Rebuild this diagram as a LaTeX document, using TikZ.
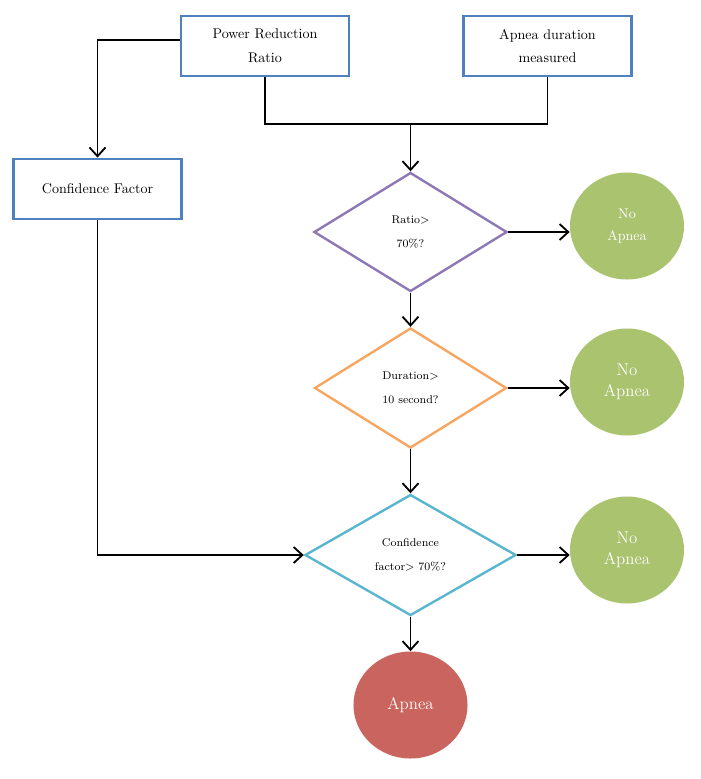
\documentclass[tikz,border=0pt]{standalone}
\usepackage{tikz}
\usetikzlibrary{shapes.geometric}
\usetikzlibrary{arrows.meta}
\usetikzlibrary{positioning}
\definecolor{boxblue}{RGB}{79,129,189}
\definecolor{askpurple}{RGB}{140,120,180}
\definecolor{askorange}{RGB}{247,165,95}
\definecolor{askteal}{RGB}{90,182,206}
\definecolor{nogreen}{RGB}{169,195,111}
\definecolor{yesred}{RGB}{201,100,94}
\tikzset{inbox/.style={draw=boxblue, line width=2pt, minimum width=4.2cm, minimum height=1.5cm, align=center, inner sep=0pt},
	ask/.style={diamond, line width=1.7pt, inner sep=0pt, align=center, font=\footnotesize},
	verdict/.style={ellipse, text=white, minimum width=2.85cm, minimum height=2.675cm, align=center, inner sep=0pt},
	wire/.style={line width=1.3pt},
	arr/.style={wire, -{Straight Barb[length=2.2mm, width=4mm]}}}

\begin{document}
\begin{tikzpicture}[x=0.025cm, y=-0.025cm]

					\useasboundingbox (0,0) rectangle (700,779);

					\node[inbox] (prr) at (265,46) {Power Reduction\\[5pt]Ratio};
					\node[inbox] (adm) at (547.5,46) {Apnea duration\\[5pt]measured};
					\node[inbox] (cf) at (97.5,189) {Confidence Factor};

					\node[ask, draw=askpurple, minimum width=4.825cm, minimum height=2.975cm] (ratio) at (410.5,232) {Ratio>\\[7.5pt]70\%?};
					\node[ask, draw=askorange, minimum width=4.8cm, minimum height=3cm] (dur) at (410.5,388) {Duration>\\[7.5pt]10 second?};
					\node[ask, draw=askteal, minimum width=5.275cm, minimum height=3.025cm] (conf) at (410.5,555) {Confidence\\[7.5pt]factor> 70\%?};

					\node[verdict, fill=nogreen] (no1) at (627,226) {No\\[4pt]Apnea};
					\node[verdict, fill=nogreen, font=\large] (no2) at (627,382) {No\\[1pt]Apnea};
					\node[verdict, fill=nogreen, font=\large] (no3) at (627,550) {No\\[1pt]Apnea};
					\node[verdict, fill=yesred, font=\large] (apnea) at (410.5,705) {Apnea};

					\coordinate (join) at (410.5,124);

					\draw[arr] ([yshift=0.15cm]prr.west) -| (cf.north);
					\draw[wire] (prr.south) |- (join);
					\draw[wire] (adm.south) |- (join);
					\draw[arr] (join) -- (ratio.north);

					\draw[arr] (ratio.east) -- (ratio.east -| no1.west);
					\draw[arr] (ratio.south) -- (dur.north);
					\draw[arr] (dur.east) -- (dur.east -| no2.west);
					\draw[arr] (dur.south) -- (conf.north);
					\draw[arr] (cf.south) |- (conf.west);
					\draw[arr] (conf.east) -- (conf.east -| no3.west);
					\draw[arr] (conf.south) -- (apnea.north);

\end{tikzpicture}
\end{document}
